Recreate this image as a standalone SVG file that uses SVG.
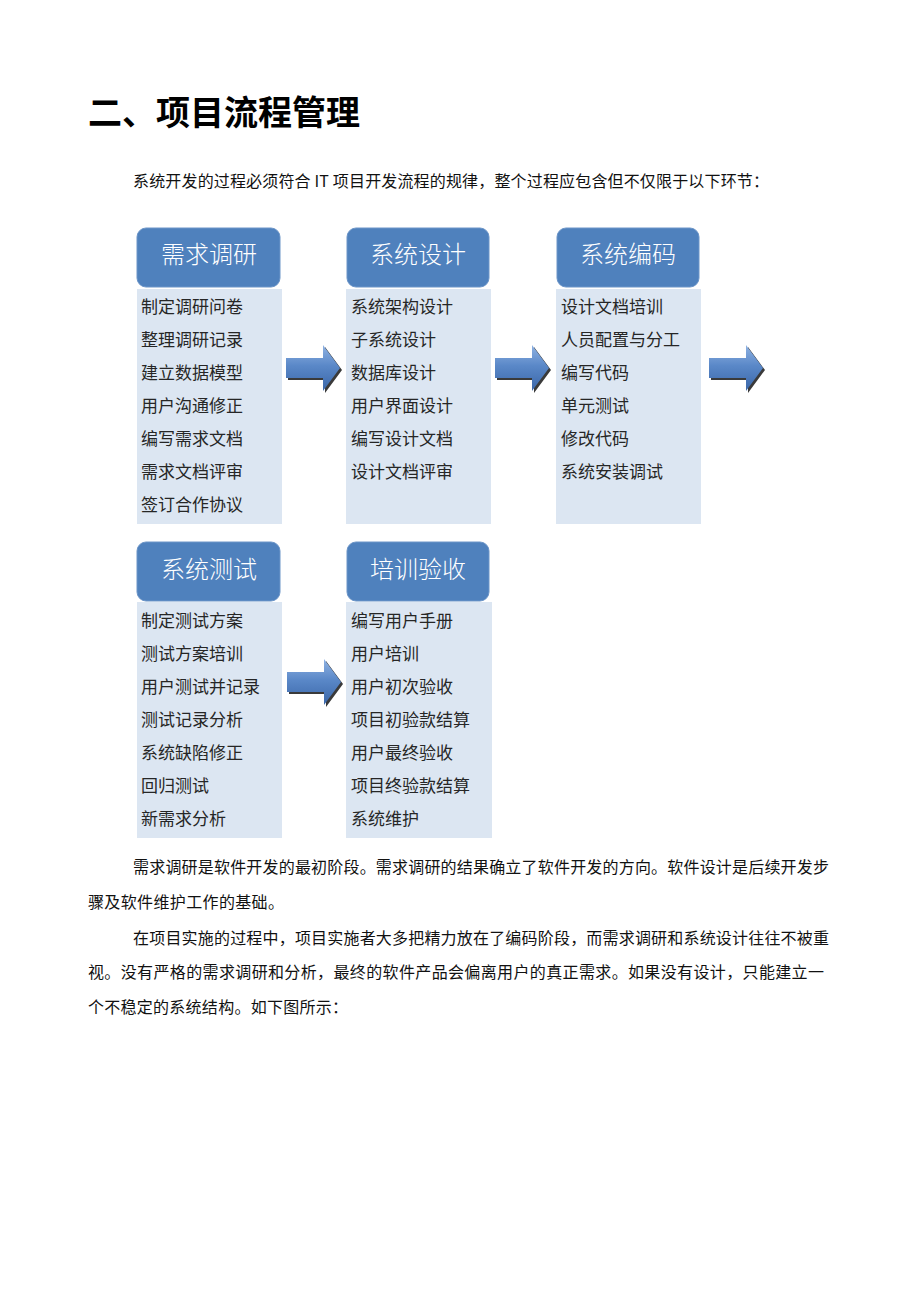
<svg xmlns="http://www.w3.org/2000/svg" width="920" height="1302" viewBox="0 0 920 1302">
<style>
.hd{fill:#4F81BD;stroke:#6C95C8;stroke-width:1}
.pn{fill:#DCE6F2}
.ht{font-family:"Noto Sans CJK SC","Noto Sans",sans-serif;font-size:24px;fill:#FFFFFF;text-anchor:middle;font-weight:300}
.it{font-family:"Noto Sans CJK SC","Noto Sans",sans-serif;font-size:17px;fill:#262626}
.body{font-family:"Noto Sans CJK SC","Noto Sans",sans-serif;font-size:16px;fill:#111111}
.title{font-family:"Noto Sans CJK SC","Noto Sans",sans-serif;font-size:34px;font-weight:bold;fill:#000000}
</style>
<defs>
<linearGradient id="ag" x1="0" y1="0" x2="0" y2="1">
<stop offset="0" stop-color="#8FB2E2"/>
<stop offset="0.45" stop-color="#5A88C8"/>
<stop offset="1" stop-color="#3A66A8"/>
</linearGradient>
<path id="arw" d="M0,-10 L37,-10 L37,-23 L54,0 L37,23 L37,10 L0,10 Z"/>
</defs>
<rect width="920" height="1302" fill="#FFFFFF"/>
<g id="title"><text class="title" x="88" y="125">二、项目流程管理</text></g>
<g id="intro"><text class="body" x="133" y="187" textLength="636" lengthAdjust="spacing">系统开发的过程必须符合 IT 项目开发流程的规律，整个过程应包含但不仅限于以下环节：</text></g>

<g id="node-xuqiu">
<rect class="hd" x="137" y="228" width="143" height="59" rx="9"/>
<text class="ht" x="209" y="263">需求调研</text>
<rect class="pn" x="137" y="289" width="145" height="235"/>
<text class="it" x="141" y="312.5">制定调研问卷</text>
<text class="it" x="141" y="345.5">整理调研记录</text>
<text class="it" x="141" y="378.5">建立数据模型</text>
<text class="it" x="141" y="411.5">用户沟通修正</text>
<text class="it" x="141" y="444.5">编写需求文档</text>
<text class="it" x="141" y="478">需求文档评审</text>
<text class="it" x="141" y="511">签订合作协议</text>
</g>
<g id="node-sheji">
<rect class="hd" x="347" y="228" width="142" height="59" rx="9"/>
<text class="ht" x="418" y="263">系统设计</text>
<rect class="pn" x="346" y="289" width="145" height="235"/>
<text class="it" x="351" y="312.5">系统架构设计</text>
<text class="it" x="351" y="345.5">子系统设计</text>
<text class="it" x="351" y="378.5">数据库设计</text>
<text class="it" x="351" y="411.5">用户界面设计</text>
<text class="it" x="351" y="444.5">编写设计文档</text>
<text class="it" x="351" y="478">设计文档评审</text>
</g>
<g id="node-bianma">
<rect class="hd" x="557" y="228" width="142" height="59" rx="9"/>
<text class="ht" x="628" y="263">系统编码</text>
<rect class="pn" x="556" y="289" width="145" height="235"/>
<text class="it" x="561" y="312.5">设计文档培训</text>
<text class="it" x="561" y="345.5">人员配置与分工</text>
<text class="it" x="561" y="378.5">编写代码</text>
<text class="it" x="561" y="411.5">单元测试</text>
<text class="it" x="561" y="444.5">修改代码</text>
<text class="it" x="561" y="478">系统安装调试</text>
</g>
<g id="node-ceshi">
<rect class="hd" x="137" y="542" width="143" height="59" rx="9"/>
<text class="ht" x="209" y="578">系统测试</text>
<rect class="pn" x="137" y="602" width="145" height="236"/>
<text class="it" x="141" y="626.5">制定测试方案</text>
<text class="it" x="141" y="659.5">测试方案培训</text>
<text class="it" x="141" y="692.5">用户测试并记录</text>
<text class="it" x="141" y="725.5">测试记录分析</text>
<text class="it" x="141" y="758.5">系统缺陷修正</text>
<text class="it" x="141" y="792">回归测试</text>
<text class="it" x="141" y="825">新需求分析</text>
</g>
<g id="node-yanshou">
<rect class="hd" x="347" y="542" width="142" height="59" rx="9"/>
<text class="ht" x="418" y="578">培训验收</text>
<rect class="pn" x="346" y="602" width="146" height="236"/>
<text class="it" x="351" y="626.5">编写用户手册</text>
<text class="it" x="351" y="659.5">用户培训</text>
<text class="it" x="351" y="692.5">用户初次验收</text>
<text class="it" x="351" y="725.5">项目初验款结算</text>
<text class="it" x="351" y="758.5">用户最终验收</text>
<text class="it" x="351" y="792">项目终验款结算</text>
<text class="it" x="351" y="825">系统维护</text>
</g>

<g id="connectors">
<g transform="translate(286,368)"><use href="#arw" x="2" y="2" fill="#3A3A3A"/><use href="#arw" fill="url(#ag)"/></g>
<g transform="translate(495,368)"><use href="#arw" x="2" y="2" fill="#3A3A3A"/><use href="#arw" fill="url(#ag)"/></g>
<g transform="translate(709,368)"><use href="#arw" x="2" y="2" fill="#3A3A3A"/><use href="#arw" fill="url(#ag)"/></g>
<g transform="translate(287,682)"><use href="#arw" x="2" y="2" fill="#3A3A3A"/><use href="#arw" fill="url(#ag)"/></g>
</g>

<g id="body-text">
<text class="body" x="133" y="873" textLength="696" lengthAdjust="spacing">需求调研是软件开发的最初阶段。需求调研的结果确立了软件开发的方向。软件设计是后续开发步</text>
<text class="body" x="88" y="908" textLength="196" lengthAdjust="spacing">骤及软件维护工作的基础。</text>
<text class="body" x="133" y="944" textLength="696" lengthAdjust="spacing">在项目实施的过程中，项目实施者大多把精力放在了编码阶段，而需求调研和系统设计往往不被重</text>
<text class="body" x="88" y="978" textLength="736" lengthAdjust="spacing">视。没有严格的需求调研和分析，最终的软件产品会偏离用户的真正需求。如果没有设计，只能建立一</text>
<text class="body" x="88" y="1013" textLength="260" lengthAdjust="spacing">个不稳定的系统结构。如下图所示：</text>
</g>
</svg>
